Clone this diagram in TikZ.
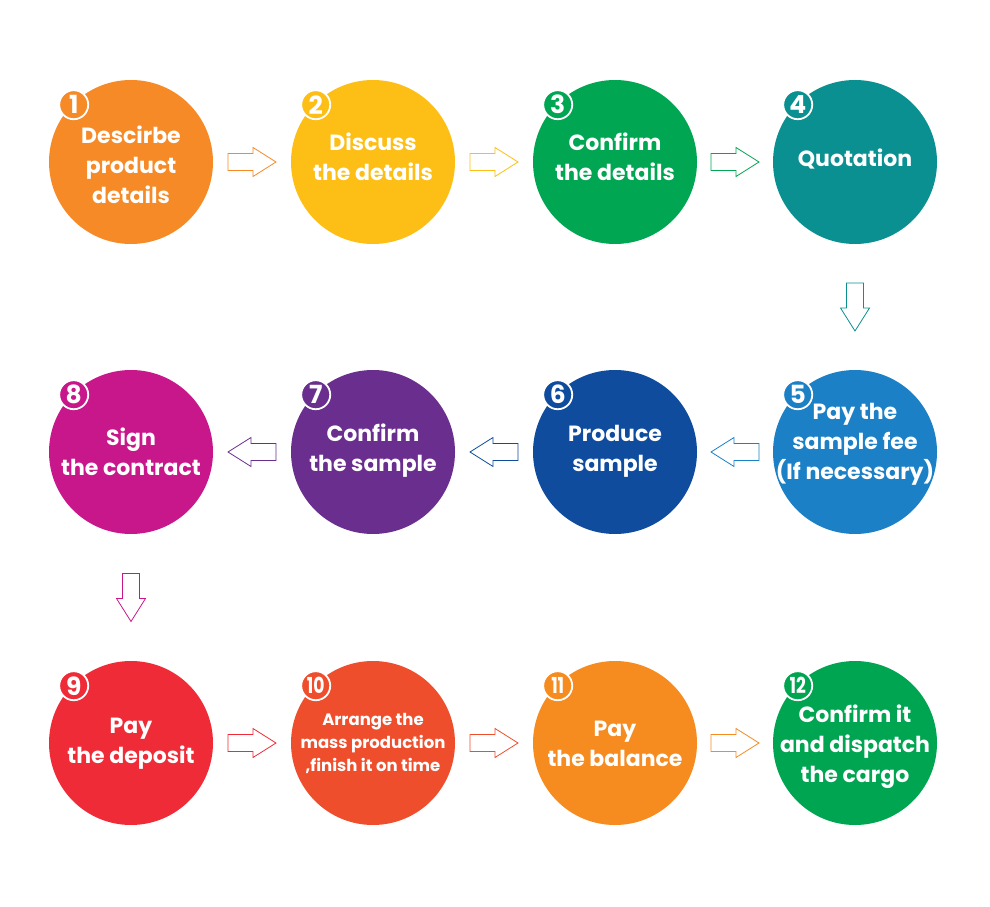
\documentclass[tikz,border=0pt]{standalone}
\usepackage{fontspec}
\setmainfont{Poppins}
\usetikzlibrary{calc}

\definecolor{stepA}{HTML}{F58A27}
\definecolor{stepB}{HTML}{FDBF16}
\definecolor{stepC}{HTML}{00A651}
\definecolor{stepD}{HTML}{0A9090}
\definecolor{stepE}{HTML}{1B80C6}
\definecolor{stepF}{HTML}{0F4C9E}
\definecolor{stepG}{HTML}{6A2F8E}
\definecolor{stepH}{HTML}{C8178A}
\definecolor{stepI}{HTML}{EE2B37}
\definecolor{stepJ}{HTML}{EF4E2D}
\definecolor{stepK}{HTML}{F68B20}
\definecolor{stepL}{HTML}{00A551}

% block arrow: from, to, rotation, colour
\newcommand\flowarrow[4]{%
  \draw[#4, line width=0.8pt, fill=white, shift={($(#1)!0.5!(#2)$)}, rotate=#3]
    (-24,-8.5) -- (1,-8.5) -- (1,-14.5) -- (24,0) -- (1,14.5) -- (1,8.5) -- (-24,8.5) -- cycle;}

\begin{document}
\begin{tikzpicture}[x=1pt, y=1pt,
    stepcircle/.style={circle, minimum size=164pt, inner sep=0pt},
    steptext/.style={align=center, inner sep=0pt, text=white,
      font=\bfseries\fontsize{22}{30}\selectfont},
    badge/.style={circle, draw=white, line width=1.8pt, minimum size=29pt, inner sep=0pt,
      text=white, font=\bfseries\fontsize{25}{25}\selectfont},
    badgetwo/.style={badge, font=\bfseries\fontsize{22}{22}\selectfont}]
    \useasboundingbox (0,0) rectangle (990,906);

    % first row
    \node[stepcircle, fill=stepA] (s1) at (131,744) {};
    \node[stepcircle, fill=stepB] (s2) at (373,744) {};
    \node[stepcircle, fill=stepC] (s3) at (615,744) {};
    \node[stepcircle, fill=stepD] (s4) at (855,744) {};
    \node[steptext, yshift=-3pt] (t1) at (s1) {Descirbe\\product\\details};
    \node[steptext, yshift=5pt] (t2) at (s2) {Discuss\\the details};
    \node[steptext, yshift=5pt] (t3) at (s3) {Confirm\\the details};
    \node[steptext, yshift=3pt] (t4) at (s4) {Quotation};

    % second row
    \node[stepcircle, fill=stepE] (s5) at (855,454) {};
    \node[stepcircle, fill=stepF] (s6) at (615,454) {};
    \node[stepcircle, fill=stepG] (s7) at (373,454) {};
    \node[stepcircle, fill=stepH] (s8) at (131,454) {};
    \node[steptext, yshift=8pt] (t5) at (s5) {Pay the\\sample fee\\(If necessary)};
    \node[steptext, yshift=1pt] (t6) at (s6) {Produce\\sample};
    \node[steptext, yshift=1pt] (t7) at (s7) {Confirm\\the sample};
    \node[steptext] (t8) at (s8) {Sign\\the contract};

    % third row
    \node[stepcircle, fill=stepI] (s9) at (131,163) {};
    \node[stepcircle, fill=stepJ] (s10) at (373,163) {};
    \node[stepcircle, fill=stepK] (s11) at (615,163) {};
    \node[stepcircle, fill=stepL] (s12) at (855,163) {};
    \node[steptext, yshift=-1pt] (t9) at (s9) {Pay\\the deposit};
    \node[steptext, font=\bfseries\fontsize{16.5}{23}\selectfont] (t10) at (s10)
      {Arrange the\\mass production\\,finish it on time};
    \node[steptext, yshift=-1pt] (t11) at (s11) {Pay\\the balance};
    \node[steptext, yshift=-4pt] (t12) at (s12) {Confirm it\\and dispatch\\the cargo};

    % numbers
    \node[badge, fill=stepA] (n1) at ($(s1)+(135:81)$) {1};
    \node[badge, fill=stepB] (n2) at ($(s2)+(135:81)$) {2};
    \node[badge, fill=stepC] (n3) at ($(s3)+(135:81)$) {3};
    \node[badge, fill=stepD] (n4) at ($(s4)+(135:81)$) {4};
    \node[badge, fill=stepE] (n5) at ($(s5)+(135:81)$) {5};
    \node[badge, fill=stepF] (n6) at ($(s6)+(135:81)$) {6};
    \node[badge, fill=stepG] (n7) at ($(s7)+(135:81)$) {7};
    \node[badge, fill=stepH] (n8) at ($(s8)+(135:81)$) {8};
    \node[badge, fill=stepI] (n9) at ($(s9)+(135:81)$) {9};
    \node[badgetwo, fill=stepJ] (n10) at ($(s10)+(135:81)$) {\scalebox{0.78}[1]{10}};
    \node[badgetwo, fill=stepK] (n11) at ($(s11)+(135:81)$) {\scalebox{0.78}[1]{11}};
    \node[badgetwo, fill=stepL] (n12) at ($(s12)+(135:81)$) {\scalebox{0.78}[1]{12}};

    % arrows
    \flowarrow{s1}{s2}{0}{stepA}
    \flowarrow{s2}{s3}{0}{stepB}
    \flowarrow{s3}{s4}{0}{stepC}
    \flowarrow{s4}{s5}{-90}{stepD}
    \flowarrow{s5}{s6}{180}{stepE}
    \flowarrow{s6}{s7}{180}{stepF}
    \flowarrow{s7}{s8}{180}{stepG}
    \flowarrow{s8}{s9}{-90}{stepH}
    \flowarrow{s9}{s10}{0}{stepI}
    \flowarrow{s10}{s11}{0}{stepJ}
    \flowarrow{s11}{s12}{0}{stepK}
\end{tikzpicture}
\end{document}
